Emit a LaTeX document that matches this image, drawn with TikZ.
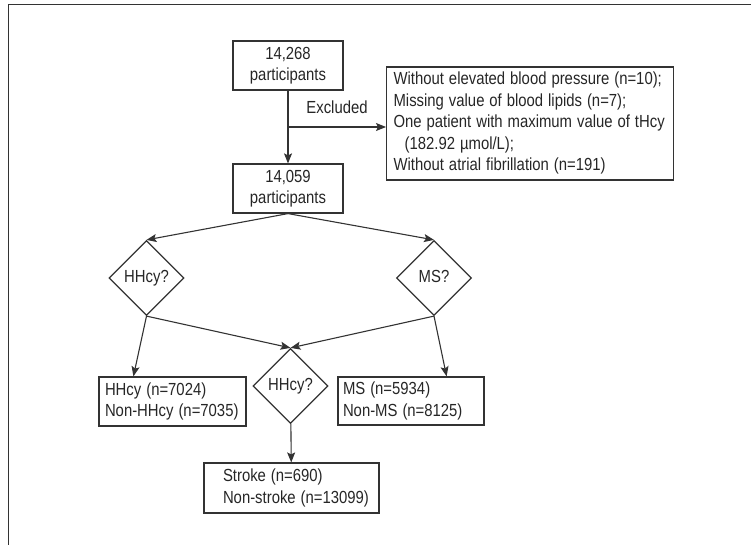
\documentclass[tikz,border=0pt]{standalone}
\usepackage{fontspec}
\setmainfont{Liberation Sans}
\usepackage{xcolor}
\usepackage{graphicx}
\usetikzlibrary{calc, arrows.meta, shapes.geometric}

% narrow text block, one tabular line per row
\newcommand{\txtblock}[2]{\scalebox{0.85}[1]{\begin{tabular}{@{}#1@{}}#2\end{tabular}}}

\begin{document}
\begin{tikzpicture}[x=1pt, y=-1pt,
    font=\fontsize{17.5}{21.5}\selectfont, text=black!85,
    flowbox/.style={draw=black!80, line width=1.2pt, rectangle, inner ysep=0pt},
    query/.style={draw=black!80, line width=1.2pt, diamond, inner sep=0pt, minimum width=75pt, minimum height=75pt},
    link/.style={draw=black!80, line width=1.1pt, -{Stealth[length=10pt, width=8pt, inset=2pt]}}]
    \useasboundingbox (0,0) rectangle (751,545);
    % frame
    \draw[black!80, line width=1pt] (751,5) -- (8,5) -- (8,545);

    \node[flowbox, minimum width=110pt, minimum height=49pt] (p0) at (288,65.5) {\txtblock{c}{14,268\\participants}};
    \node[flowbox, minimum width=110pt, minimum height=49pt] (p1) at (288,188.5) {\txtblock{c}{14,059\\participants}};
    \node[flowbox, anchor=west, align=left, text width=273pt, inner xsep=7pt, minimum height=113pt] (excl) at (386,123.5)
        {\txtblock{l}{Without elevated blood pressure (n=10);\\
         Missing value of blood lipids (n=7);\\
         One patient with maximum value of tHcy\\
         \hspace*{13pt}(182.92 µmol/L);\\
         Without atrial fibrillation (n=191)}};

    \node[query] (d1) at (146.5,278) {\txtblock{c}{HHcy?}};
    \node[query] (d2) at (434,278) {\txtblock{c}{MS?}};
    \node[query] (d3) at (290.5,386) {\txtblock{c}{HHcy?}};

    \node[flowbox, align=left, text width=135pt, inner xsep=6pt, minimum height=49pt] (r1) at (172.5,401.5)
        {\txtblock{l}{HHcy (n=7024)\\Non-HHcy (n=7035)}};
    \node[flowbox, align=left, text width=136pt, inner xsep=5pt, minimum height=48pt] (r2) at (411,401)
        {\txtblock{l}{MS (n=5934)\\Non-MS (n=8125)}};
    \node[flowbox, align=left, text width=163pt, inner xsep=6pt, minimum height=50pt] (r3) at (291.5,488)
        {\hspace*{13pt}\txtblock{l}{Stroke (n=690)\\Non-stroke (n=13099)}};

    \coordinate (split) at ($(p0.south)!0.5!(p1.north)$);
    \draw[link] (p0) -- (p1);
    \draw[link] (split) -- (split -| excl.west) node[midway, above=3pt] (exlab) {\txtblock{c}{Excluded}};

    \draw[link] (p1.south) -- (d1.north);
    \draw[link] (p1.south) -- (d2.north);
    \draw[link] (d1.south) -- ([xshift=35pt]r1.north west);
    \draw[link] (d2.south) -- ([xshift=-38pt]r2.north east);
    \draw[link] (d1.south) -- (d3.north);
    \draw[link] (d2.south) -- (d3.north);
    \draw[link] (d3) -- (r3);
\end{tikzpicture}
\end{document}
